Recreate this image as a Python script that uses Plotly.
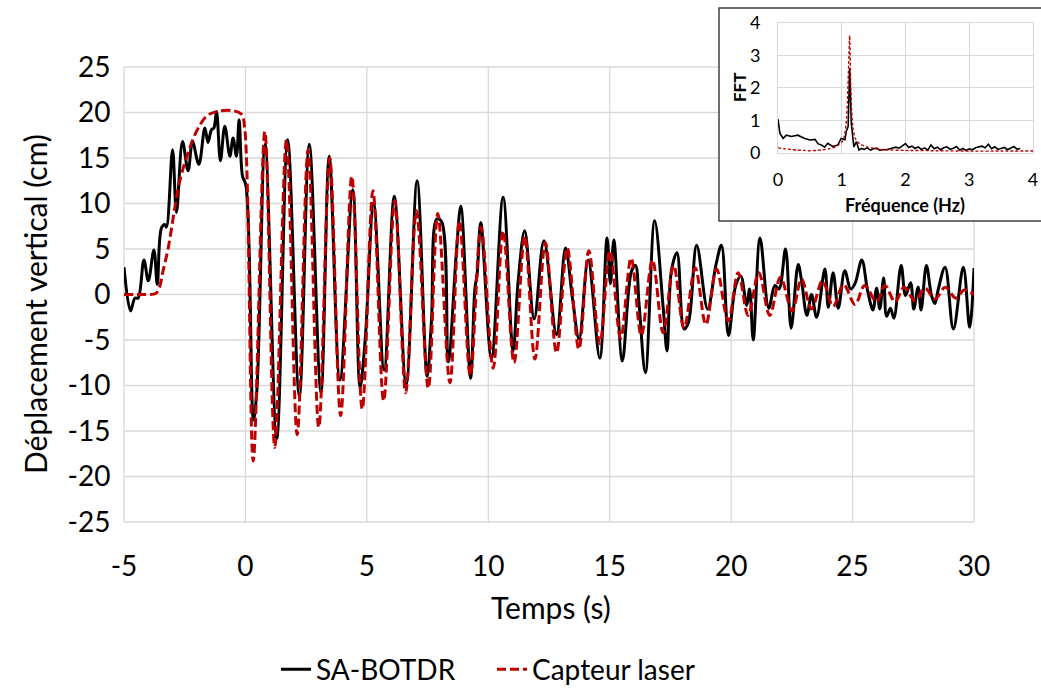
import plotly.graph_objects as go

# ---------------- main chart data ----------------
t_botdr = [-5.0, -4.73, -4.55, -4.42, -4.18, -4.0, -3.77, -3.63, -3.46, -3.32, -3.25, -3.0, -2.84, -2.59,
           -2.36, -2.18, -1.92, -1.67, -1.54, -1.40, -1.30, -1.19, -1.03, -0.85, -0.64, -0.51, -0.37, -0.26,
           -0.12, 0.02, 0.33, 0.47, 0.81, 1.29, 1.74, 2.22, 2.63, 3.11, 3.45, 3.89, 4.42, 4.72, 4.93, 5.28,
           5.71, 6.13, 6.62, 7.07, 7.48, 7.66, 7.88, 8.08, 8.35, 8.69, 8.87, 9.27, 9.45, 9.54, 9.69, 10.13,
           10.61, 11.02, 11.23, 11.5, 11.89, 12.29, 12.81, 13.18, 13.47, 13.74, 14.11, 14.59, 14.89, 15.03,
           15.17, 15.52, 15.89, 16.06, 16.21, 16.47, 16.85, 17.2, 17.36, 17.54, 17.77, 18.06, 18.24, 18.58,
           19.03, 19.37, 19.6, 19.89, 20.19, 20.4, 20.64, 20.76, 20.91, 21.19, 21.55, 21.8, 21.97, 22.24,
           22.47, 22.76, 22.9, 23.12, 23.31, 23.52, 23.86, 24.0, 24.2, 24.41, 24.68, 24.92, 25.1, 25.38,
           25.62, 25.84, 25.99, 26.12, 26.28, 26.4, 26.56, 26.7, 27.0, 27.18, 27.39, 27.52, 27.7, 27.82,
           28.04, 28.25, 28.39, 28.53, 28.81, 29.15, 29.56, 29.82, 30.0]
d_botdr = [3.0, -1.8, -0.4, -0.4, 3.8, 1.5, 4.9, 1.1, 7.3, 7.7, 7.4, 15.9, 9.0, 16.8,
           13.6, 16.8, 14.3, 18.3, 16.7, 18.1, 18.3, 20.1, 14.7, 18.5, 15.2, 17.2, 15.2, 19.2,
           13.0, 12.0, -13.8, -10.6, 16.5, -15.8, 17.0, -11.2, 16.5, -10.8, 15.2, -9.4, 11.5, -10.2, -5.0, 10.0,
           -8.3, 10.8, -9.9, 12.5, -9.0, -2.9, 8.3, 8.0, -7.4, 4.8, 9.7, -9.2, 0.7, 2.2, 7.9, -7.0,
           10.7, -6.2, 1.5, 7.0, -2.7, 5.9, -4.4, 5.1, -0.5, -4.9, 3.8, -7.0, 6.2, 1.2,
           6.0, -7.3, 2.5, 3.2, -1.1, -8.6, 8.1, -1.4, -6.2, 2.6, 4.6, -3.8, -3.1, 5.4,
           -1.6, 3.2, 5.4, -4.5, 1.0, 2.0, -1.2, 0.6, -5.0, 6.2, -1.5, 1.0, 0.6, 5.0,
           -3.7, 3.3, 1.5, -2.3, 0.0, -2.5, 2.8, -1.4, 2.4, -1.5, 2.6, 0.6, 1.2, 3.8,
           0.4, -1.7, 0.7, -1.6, 1.8, -2.4, -1.5, -2.6, 3.2, -0.1, 1.3, -1.6, 0.8, -1.7,
           3.2, -0.1, -1.0, 0.6, 3.0, -3.8, 3.0, -3.6, 2.9]

t_laser = [-5.0, -4.5, -4.0, -3.7, -3.55, -3.4, -3.18, -2.91, -2.70, -2.43, -2.02, -1.6, -1.19, -0.51,
           -0.16, -0.03, 0.32, 0.80, 1.21, 1.69, 2.13, 2.58, 3.02, 3.47, 3.92, 4.38, 4.81, 5.25, 5.69, 6.15,
           6.6, 7.04, 7.53, 7.92, 8.42, 8.81, 9.26, 9.7, 10.2, 10.61, 11.06, 11.5, 11.92, 12.35, 12.81,
           13.25, 13.73, 14.14, 14.59, 15.01, 15.45, 15.88, 16.3, 16.76, 17.2, 17.63, 18.06, 18.52, 18.96,
           19.4, 19.88, 20.29, 20.7, 21.14, 21.59, 22.03, 22.51, 22.9, 23.31, 23.76, 24.2, 24.63, 25.1,
           25.5, 25.99, 26.33, 26.75, 27.12, 27.57, 27.98, 28.39, 28.82, 29.25, 29.6, 30.0]
d_laser = [0.0, 0.0, 0.0, 0.1, 0.7, 2.5, 5.1, 9.5, 12.5, 15.0, 17.9, 19.6, 20.1, 20.2,
           19.8, 18.3, -18.3, 17.9, -16.8, 17.0, -15.4, 15.9, -14.6, 15.0, -13.3, 13.0, -12.6, 11.4, -11.7, 10.3,
           -10.8, 9.2, -10.3, 8.9, -9.7, 8.1, -8.9, 7.4, -8.1, 7.0, -7.5, 6.4, -7.1, 5.7, -6.4,
           5.1, -6.0, 4.8, -5.4, 4.8, -4.8, 4.0, -4.5, 3.8, -4.2, 3.2, -3.7, 2.9, -3.3,
           2.8, -2.9, 2.4, -2.3, 2.4, -2.3, 1.9, -1.8, 1.7, -1.6, 1.5, -1.3, 1.1, -1.1,
           1.0, -0.8, 1.0, -0.8, 0.8, -0.7, 0.7, -0.5, 0.8, -0.4, 0.5, 0.0]

x_tick_vals = [-5, 0, 5, 10, 15, 20, 25, 30]
x_tick_text = ["-5", "0", "5", "10", "15", "20", "25", "30"]
y_tick_vals = [-25, -20, -15, -10, -5, 0, 5, 10, 15, 20, 25]
y_tick_text = ["-25", "-20", "-15", "-10", "-5", "0", "5", "10", "15", "20", "25"]

# ---------------- inset (FFT) data ----------------
f_botdr = [0.0, 0.03, 0.08, 0.13, 0.21, 0.31, 0.42, 0.5, 0.58, 0.63, 0.68, 0.73, 0.78, 0.86, 0.94, 0.99,
           1.05, 1.07, 1.1, 1.124, 1.15, 1.19, 1.23, 1.27, 1.31,
           1.35, 1.4, 1.45, 1.5, 1.55, 1.6, 1.65, 1.7, 1.75, 1.8, 1.85, 1.9, 1.95, 2.0, 2.05, 2.1, 2.15,
           2.2, 2.25, 2.3, 2.35, 2.4, 2.45, 2.5, 2.55, 2.6, 2.65, 2.7, 2.75, 2.8, 2.85, 2.9, 2.95, 3.0,
           3.05, 3.1, 3.15, 3.2, 3.25, 3.3, 3.35, 3.4, 3.45, 3.5, 3.55, 3.6, 3.65, 3.7, 3.75, 3.8]
a_botdr = [1.03, 0.6, 0.44, 0.54, 0.5, 0.54, 0.44, 0.39, 0.41, 0.27, 0.24, 0.17, 0.29, 0.19, 0.24, 0.44,
           0.4, 0.65, 0.8, 2.6, 0.9, 0.18, 0.34, 0.08, 0.13,
           0.1, 0.15, 0.08, 0.12, 0.14, 0.07, 0.1, 0.09, 0.12, 0.15, 0.17, 0.14, 0.22, 0.28, 0.16, 0.2, 0.13,
           0.18, 0.1, 0.15, 0.08, 0.24, 0.12, 0.17, 0.09, 0.15, 0.18, 0.1, 0.14, 0.19, 0.08, 0.13, 0.07, 0.12,
           0.09, 0.15, 0.18, 0.2, 0.15, 0.26, 0.12, 0.18, 0.1, 0.14, 0.16, 0.09, 0.13, 0.19, 0.11, 0.13]

f_laser = [0.0, 0.1, 0.2, 0.3, 0.4, 0.5, 0.6, 0.7, 0.8, 0.9, 0.95, 1.0, 1.04, 1.07, 1.09, 1.11, 1.124,
           1.14, 1.16, 1.18, 1.21, 1.25, 1.3, 1.4, 1.5, 1.6, 1.8, 2.0, 2.5, 3.0, 3.5, 4.0]
a_laser = [0.15, 0.12, 0.1, 0.08, 0.07, 0.06, 0.07, 0.09, 0.12, 0.18, 0.24, 0.32, 0.5, 0.9, 1.6, 2.8, 3.6,
           2.2, 1.1, 0.7, 0.45, 0.33, 0.25, 0.18, 0.14, 0.1, 0.08, 0.07, 0.06, 0.05, 0.05, 0.05]

inset_ticks = [0, 1, 2, 3, 4]

# ---------------- layout geometry ----------------
W, H = 1041, 689
FONT = "Lato, Carlito, 'Open Sans', sans-serif"
GRID = "#d9d9d9"
RED = "#C00000"

def px_x(p):
    return p / W

def px_y(p):
    return (H - p) / H

main_xd = [px_x(124), px_x(974)]
main_yd = [px_y(522), px_y(67)]
ins_xd = [px_x(778), px_x(1033)]
ins_yd = [px_y(152.7), px_y(22.7)]

fig = go.Figure()

fig.add_trace(go.Scatter(x=t_botdr, y=d_botdr, mode="lines", name="SA-BOTDR",
                         line=dict(color="#000000", width=3, shape="spline", smoothing=1.0)))
fig.add_trace(go.Scatter(x=t_laser, y=d_laser, mode="lines", name="Capteur laser",
                         line=dict(color=RED, width=3, dash="9px,4px", shape="spline", smoothing=1.0)))

fig.add_trace(go.Scatter(x=f_botdr, y=a_botdr, mode="lines", showlegend=False,
                         xaxis="x2", yaxis="y2", line=dict(color="#000000", width=1.6)))
fig.add_trace(go.Scatter(x=f_laser, y=a_laser, mode="lines", showlegend=False,
                         xaxis="x2", yaxis="y2", line=dict(color=RED, width=1.4, dash="3px,2px",
                                                           shape="spline", smoothing=0.6)))

# gridlines of main plot drawn as shapes so that the inset box can cover them
shapes = []
for v in y_tick_vals:
    yp = main_yd[0] + (v - y_tick_vals[0]) / (y_tick_vals[-1] - y_tick_vals[0]) * (main_yd[1] - main_yd[0])
    shapes.append(dict(type="line", xref="paper", yref="paper", x0=main_xd[0], x1=main_xd[1],
                       y0=yp, y1=yp, line=dict(color=GRID, width=1.3), layer="below"))
for v in x_tick_vals:
    xp = main_xd[0] + (v - x_tick_vals[0]) / (x_tick_vals[-1] - x_tick_vals[0]) * (main_xd[1] - main_xd[0])
    shapes.append(dict(type="line", xref="paper", yref="paper", x0=xp, x1=xp,
                       y0=main_yd[0], y1=main_yd[1], line=dict(color=GRID, width=1.3), layer="below"))
# inset frame
shapes.append(dict(type="rect", xref="paper", yref="paper", x0=px_x(719), x1=1.01,
                   y0=px_y(221), y1=px_y(8), fillcolor="white",
                   line=dict(color="#404040", width=1.5), layer="below"))

annotations = [
    dict(text="Temps (s)", xref="paper", yref="paper", x=px_x(551), y=px_y(607),
         showarrow=False, font=dict(family=FONT, size=30, color="#000"), xanchor="center", yanchor="middle"),
    dict(text="Déplacement vertical (cm)", xref="paper", yref="paper", x=px_x(35), y=px_y(304),
         showarrow=False, textangle=-90, font=dict(family=FONT, size=30, color="#000"),
         xanchor="center", yanchor="middle"),
    dict(text="<b>Fréquence (Hz)</b>", xref="paper", yref="paper", x=px_x(905), y=px_y(205),
         showarrow=False, font=dict(family=FONT, size=18, color="#000"), xanchor="center", yanchor="middle"),
    dict(text="<b>FFT</b>", xref="paper", yref="paper", x=px_x(740), y=px_y(88),
         showarrow=False, textangle=-90, font=dict(family=FONT, size=17, color="#000"),
         xanchor="center", yanchor="middle"),
]

fig.update_layout(
    width=W, height=H,
    margin=dict(l=0, r=0, t=0, b=0, autoexpand=False),
    paper_bgcolor="white", plot_bgcolor="rgba(0,0,0,0)",
    font=dict(family=FONT, color="#000"),
    shapes=shapes, annotations=annotations,
    xaxis=dict(domain=main_xd, range=[-5, 30], tickvals=x_tick_vals, ticktext=x_tick_text,
               showgrid=False, zeroline=False, showline=False, ticks="outside", ticklen=19,
               tickcolor="rgba(0,0,0,0)", tickfont=dict(family=FONT, size=28, color="#000"),
               anchor="y", automargin=False),
    yaxis=dict(domain=main_yd, range=[-25, 25], tickvals=y_tick_vals, ticktext=y_tick_text,
               showgrid=False, zeroline=False, showline=False, ticks="outside", ticklen=7,
               tickcolor="rgba(0,0,0,0)", tickfont=dict(family=FONT, size=28, color="#000"),
               anchor="x", automargin=False),
    xaxis2=dict(domain=ins_xd, range=[0, 4], tickvals=inset_ticks, ticktext=[str(v) for v in inset_ticks],
                showgrid=True, gridcolor=GRID, zeroline=False, showline=True, mirror=True, linecolor=GRID,
                ticks="outside", ticklen=11, tickcolor="rgba(0,0,0,0)",
                tickfont=dict(family=FONT, size=18, color="#000"), anchor="y2", automargin=False),
    yaxis2=dict(domain=ins_yd, range=[0, 4], tickvals=inset_ticks, ticktext=[str(v) for v in inset_ticks],
                showgrid=True, gridcolor=GRID, zeroline=False, showline=True, mirror=True, linecolor=GRID,
                ticks="outside", ticklen=13, tickcolor="rgba(0,0,0,0)",
                tickfont=dict(family=FONT, size=18, color="#000"), anchor="x2", automargin=False),
    legend=dict(orientation="h", x=px_x(276), xanchor="left", y=-0.008, yanchor="bottom",
                font=dict(family=FONT, size=28, color="#000"), itemwidth=30, entrywidth=171,
                bgcolor="rgba(0,0,0,0)"),
    showlegend=True,
)

fig.write_html("out.html", config={"displayModeBar": False},
               post_script="document.body.style.margin='0';document.body.style.padding='0';")
